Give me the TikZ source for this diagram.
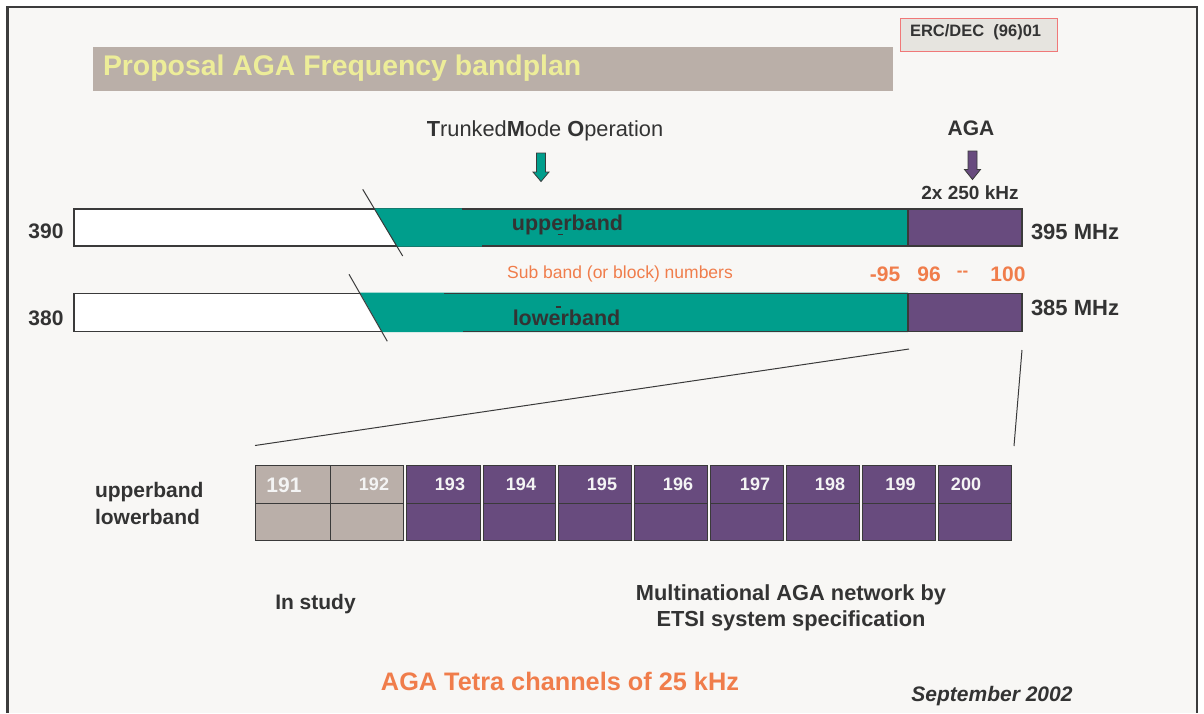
\documentclass[tikz,border=0pt]{standalone}
\usepackage{fontspec}
\setmainfont{Liberation Sans}
\definecolor{pagebg}{HTML}{F8F7F5}
\definecolor{framec}{HTML}{3C3C3C}
\definecolor{txtdark}{HTML}{333333}
\definecolor{bandteal}{HTML}{009E8C}
\definecolor{bandpurple}{HTML}{684B7E}
\definecolor{cellgray}{HTML}{BAAFA9}
\definecolor{agaorange}{HTML}{F07D4B}
\definecolor{titlebg}{HTML}{BAAFA8}
\definecolor{titletxt}{HTML}{EDED99}
\definecolor{ercbg}{HTML}{E6E4DF}
\definecolor{ercred}{HTML}{F07878}
\definecolor{edgec}{HTML}{3A3A3A}
\definecolor{celltxt}{HTML}{F4F4F4}
\tikzset{
  tx/.style={inner sep=0pt, outer sep=0pt, text=txtdark},
  bfs/.style={tx, font=\bfseries\fontsize{#1}{#1}\selectfont},
  rgs/.style={tx, font=\fontsize{#1}{#1}\selectfont},
  orng/.style={bfs=#1, text=agaorange},
  bandline/.style={draw=edgec, line width=1.3pt},
  cellbox/.style={draw=edgec, line width=1.3pt, minimum height=38pt, inner sep=0pt, anchor=north west},
  celllbl/.style={inner sep=0pt, text=celltxt, font=\bfseries\fontsize{18}{18}\selectfont, anchor=base},
  blockarrow/.style={draw=edgec, line width=0.8pt},
  thinline/.style={draw=edgec, line width=1pt}
}
\begin{document}
\begin{tikzpicture}[x=1pt,y=-1pt]
\useasboundingbox (0,0) rectangle (1204,713);
\fill[white] (0,0) rectangle (1204,713);
\fill[pagebg] (7.5,7) rectangle (1197,713);
\draw[framec, line width=2.5pt] (7.5,713) -- (7.5,7) -- (1197,7) -- (1197,713);

% title and reference box
\node[fill=titlebg, minimum width=800pt, minimum height=44pt, inner sep=0pt, anchor=north west] (titlebox) at (93,47) {};
\node[bfs=28.4, text=titletxt, anchor=base west] (title) at (103,75) {Proposal AGA Frequency bandplan};
\node[fill=ercbg, draw=ercred, line width=1.3pt, minimum width=157pt, minimum height=33pt, inner sep=0pt, anchor=north west] (ercbox) at (900,17.5) {};
\node[bfs=16.5, anchor=base west] (erc) at (910,36.5) {ERC/DEC\ \ (96)01};

% headers
\node[rgs=21.8, anchor=base] (tmo) at (545,136.5) {\textbf{T}runked\textbf{M}ode \textbf{O}peration};
\node[bfs=21, anchor=base] (aga) at (971,135.5) {AGA};
\node[bfs=19, anchor=base] (khz) at (970,199.5) {2x 250 kHz};
\filldraw[blockarrow, fill=bandteal] (536.5,153) -- (545.5,153) -- (545.5,172) -- (549,172) -- (541,181.5) -- (533,172) -- (536.5,172) -- cycle;
\filldraw[blockarrow, fill=bandpurple] (968,151) -- (977,151) -- (977,169.5) -- (980.5,169.5) -- (972.5,179.5) -- (964.5,169.5) -- (968,169.5) -- cycle;

% upper band
\coordinate (uTL) at (74,209);
\coordinate (uBR) at (1022,246);
\draw[bandline, fill=white] (uTL) rectangle (908,246);
\fill[bandteal] (374,208.3) -- (908,208.3) -- (908,246.7) -- (396.7,246.7) -- cycle;
\draw[bandline] (462,209) -- (908,209);
\draw[bandline] (482,246) -- (908,246);
\draw[bandline, fill=bandpurple] (908,209) rectangle (uBR);
\draw[thinline] (362.7,189.3) -- (402.7,256);
\node[bfs=21.5, anchor=base] (upb) at (567.5,230.7) {upperband};
\draw[txtdark, line width=1.5pt] (557.5,234.5) -- (562.5,234.5);

% lower band
\coordinate (lTL) at (74,293.3);
\coordinate (lBR) at (1022,331.3);
\draw[bandline, fill=white] (lTL) rectangle (908,331.3);
\fill[bandteal] (360,292.6) -- (908,292.6) -- (908,332) -- (382.2,332) -- cycle;
\draw[bandline] (444,293.3) -- (908,293.3);
\draw[bandline] (463,331.3) -- (908,331.3);
\draw[bandline, fill=bandpurple] (908,293.3) rectangle (lBR);
\draw[thinline] (349,274.3) -- (387.3,341.3);
\node[bfs=21.5, anchor=base] (lwb) at (566.5,325) {lowerband};
\draw[txtdark, line width=1.5pt] (555.5,306.8) -- (560.5,306.8);

% band labels
\node[bfs=21, anchor=base] (f390) at (46,238.5) {390};
\node[bfs=21, anchor=base] (f380) at (46,325.5) {380};
\node[bfs=22, anchor=base west] (f395) at (1031,239.5) {395 MHz};
\node[bfs=22, anchor=base west] (f385) at (1031,315) {385 MHz};
\node[rgs=17.5, text=agaorange, anchor=base] (sub) at (620,278) {Sub band (or block) numbers};
\node[orng=21, anchor=base] (n95) at (885,281.5) {-95};
\node[orng=21, anchor=base] (n96) at (929,281.5) {96};
\node[orng=17, anchor=base] (ndash) at (962.5,276) {-{}-};
\node[orng=21, anchor=base] (n100) at (1008,281.5) {100};

% zoom lines
\coordinate (zA) at (909,349);
\coordinate (zB) at (255,445.5);
\coordinate (zC) at (1022,350);
\coordinate (zD) at (1014,446);
\draw[thinline] (zA) -- (zB);
\draw[thinline] (zC) -- (zD);

% channel cells
\foreach \n/\x/\w/\c in {191/255/75pt/cellgray, 192/330/73pt/cellgray, 193/406/73.5pt/bandpurple, 194/482.5/72.5pt/bandpurple, 195/558/73pt/bandpurple, 196/634/73pt/bandpurple, 197/710/73pt/bandpurple, 198/786/73pt/bandpurple, 199/862/73pt/bandpurple, 200/938/73pt/bandpurple}{
  \node[cellbox, fill=\c, minimum width=\w] (t\n) at (\x,464.5) {};
  \node[cellbox, fill=\c, minimum width=\w, minimum height=37.5pt] (b\n) at (\x,502.5) {};
}
\node[celllbl, font=\bfseries\fontsize{21}{21}\selectfont] (l191) at (284,492.5) {191};
\foreach \n/\x in {192/374, 193/450, 194/521, 195/602, 196/678, 197/755, 198/830, 199/900.5, 200/966}{
  \node[celllbl] (l\n) at (\x,490) {\n};
}
\node[bfs=21, anchor=base west] (lu) at (95,497) {upperband};
\node[bfs=21, anchor=base west] (ll) at (95,524) {lowerband};

% bottom texts
\node[bfs=21, anchor=base] (study) at (315.5,609) {In study};
\node[bfs=21.8, anchor=base] (multi1) at (791,600) {Multinational AGA network by};
\node[bfs=21.8, anchor=base] (multi2) at (791,626) {ETSI system specification};
\node[orng=25.3, anchor=base] (tetra) at (560,690) {AGA Tetra channels of 25 kHz};
\node[bfs=21, anchor=base, font=\bfseries\itshape\fontsize{21}{21}\selectfont] (sept) at (992,701) {September 2002};
\end{tikzpicture}
\end{document}
